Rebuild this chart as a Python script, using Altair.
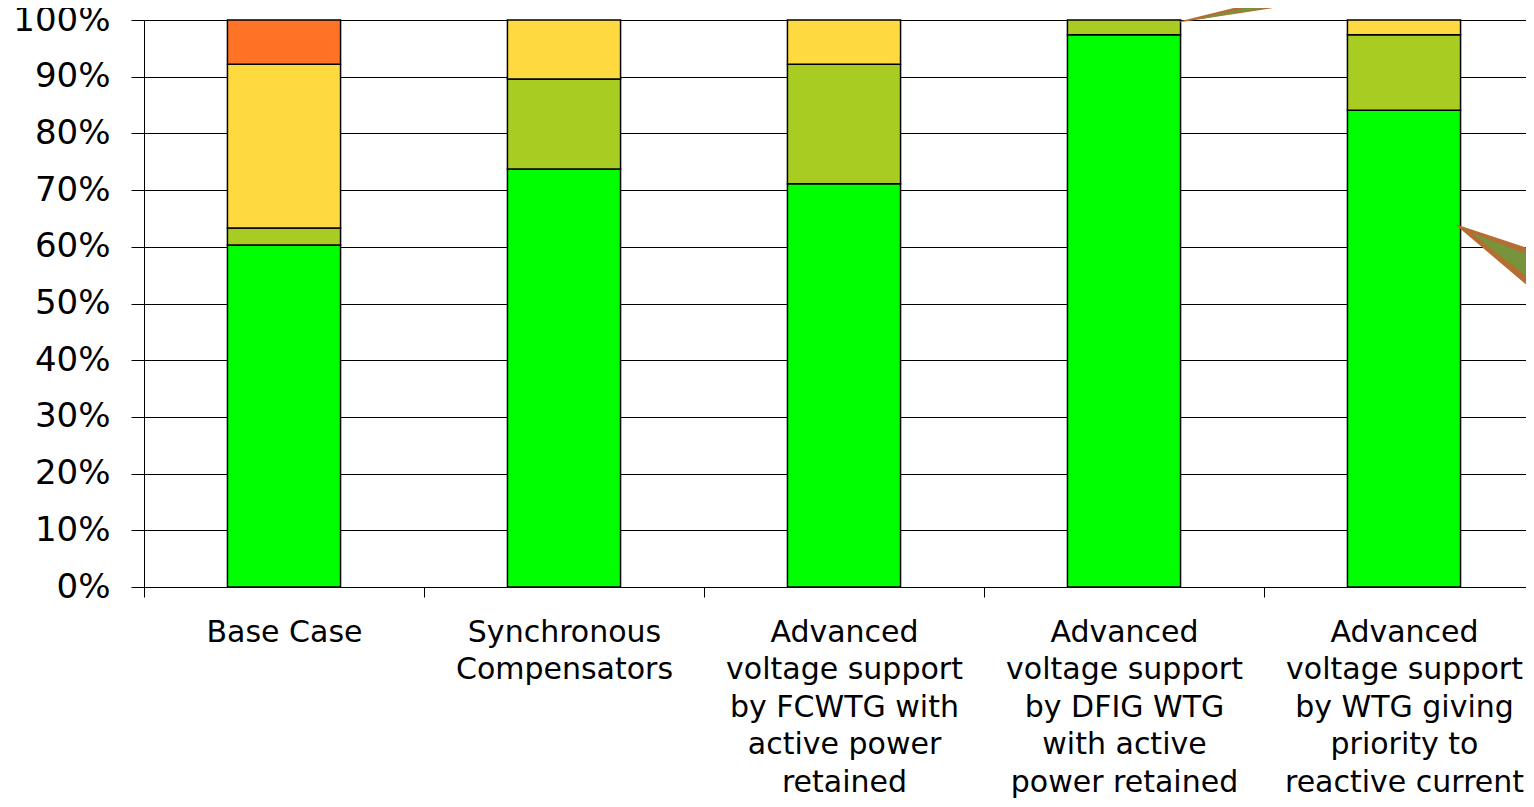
import altair as alt
import pandas as pd

# ---------------- data ----------------
categories = [
    "Base Case",
    "Synchronous\nCompensators",
    "Advanced\nvoltage support\nby FCWTG with\nactive power\nretained",
    "Advanced\nvoltage support\nby DFIG WTG\nwith active\npower retained",
    "Advanced\nvoltage support\nby WTG giving\npriority to\nreactive current",
]
series = ["Series 1", "Series 2", "Series 3", "Series 4"]
series1 = [60.3, 73.7, 71.1, 97.4, 84.1]
series2 = [3.0, 15.9, 21.1, 2.6, 13.3]
series3 = [28.9, 10.4, 7.8, 0.0, 2.6]
series4 = [7.8, 0.0, 0.0, 0.0, 0.0]
colors = ["#00FF00", "#A9CC22", "#FFD940", "#FF7326"]
y_ticks = [0, 0.1, 0.2, 0.3, 0.4, 0.5, 0.6, 0.7, 0.8, 0.9, 1.0]

# callout wedges (in category-index / fraction units)
arrow_id = ["a1", "a1", "a2", "a2"]
arrow_pt = [0, 1, 0, 1]
arrow_outer_x = [3.70, 4.486, 4.689, 5.057]
arrow_outer_y = [0.997, 1.074, 0.638, 0.536]
arrow_outer_size = [0, 21, 0, 47]
arrow_inner_x = [3.78, 4.486, 4.75, 5.057]
arrow_inner_y = [1.003, 1.074, 0.622, 0.536]
arrow_inner_size = [0, 11, 0, 31]

rows = []
for ci, cat in enumerate(categories):
    for si, vals in enumerate([series1, series2, series3, series4]):
        if vals[ci] > 0:
            rows.append({"category": cat, "series": series[si], "order": si,
                         "value": vals[ci] / 100.0})
df = pd.DataFrame(rows)

outer = pd.DataFrame({"id": arrow_id, "pt": arrow_pt, "x": arrow_outer_x,
                      "y": arrow_outer_y, "s": arrow_outer_size})
inner = pd.DataFrame({"id": arrow_id, "pt": arrow_pt, "x": arrow_inner_x,
                      "y": arrow_inner_y, "s": arrow_inner_size})

FONT = "DejaVu Sans"

bars = alt.Chart(df).mark_bar(
    stroke="black", strokeWidth=1.5, width={"band": 0.404}
).encode(
    x=alt.X("category:N", sort=categories,
            scale=alt.Scale(paddingInner=0, paddingOuter=0),
            axis=alt.Axis(title=None, labelAngle=0, labelFont=FONT,
                          labelFontSize=30, labelLineHeight=37.5,
                          labelPadding=20, tickSize=10, tickBand="extent",
                          labelLimit=400, labelColor="black",
                          domainColor="black", tickColor="black",
                          labelOverlap=False, labelFlush=False,
                          labelExpr="split(datum.label, '\\n')")),
    y=alt.Y("value:Q", stack="zero",
            scale=alt.Scale(domain=[0, 1], nice=False),
            axis=alt.Axis(title=None, values=y_ticks, format=".0%",
                          labelFont=FONT, labelFontSize=34, labelColor="black",
                          labelPadding=21, tickSize=13, tickColor="black",
                          domainColor="black", grid=True, gridColor="black",
                          gridWidth=1)),
    color=alt.Color("series:N", scale=alt.Scale(domain=series, range=colors),
                    legend=None),
    order=alt.Order("order:Q", sort="ascending"),
)

def wedge(data, color):
    return alt.Chart(data).mark_trail(color=color, opacity=1).encode(
        x=alt.X("x:Q", scale=alt.Scale(domain=[0, 5], nice=False, zero=False),
                axis=None),
        y=alt.Y("y:Q", scale=alt.Scale(domain=[0, 1], nice=False), axis=None),
        size=alt.Size("s:Q", scale=None, legend=None),
        detail="id:N",
        order="pt:Q",
    )

chart = alt.layer(
    bars, wedge(outer, "#B46E32"), wedge(inner, "#77933C")
).resolve_scale(
    x="independent", y="independent", size="independent"
).properties(
    width=1400, height=567,
    autosize=alt.AutoSizeParams(type="none"),
    padding={"left": 136, "top": 12, "right": -18, "bottom": 212},
).configure_view(stroke=None).configure(background="white")

chart.save("out.html", embed_options={"renderer": "svg", "actions": False})
